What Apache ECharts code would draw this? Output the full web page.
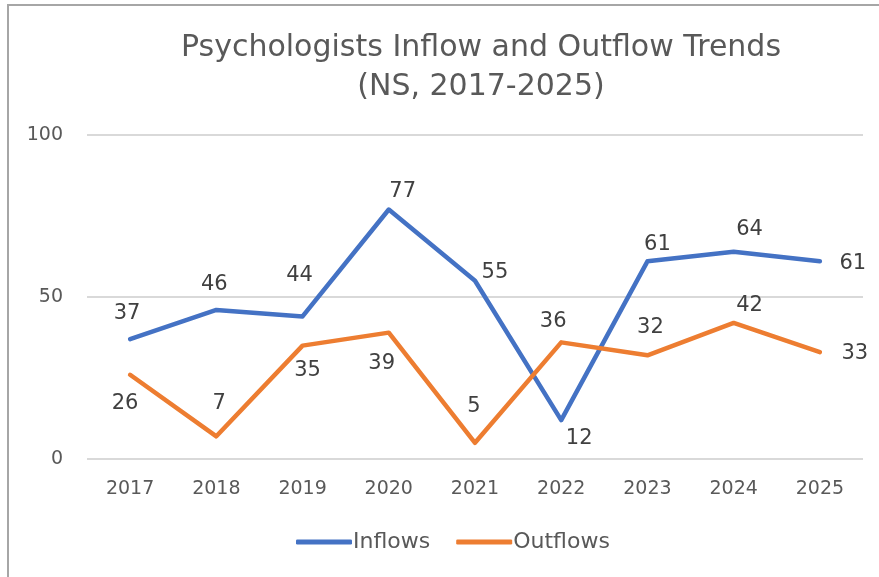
<!DOCTYPE html>
<html>
<head>
<meta charset="utf-8">
<script src="https://cdn.jsdelivr.net/npm/echarts@6/dist/echarts.min.js"></script>
<style>
  html, body { margin: 0; padding: 0; background: #fff; }
  #main { width: 879px; height: 577px; }
</style>
</head>
<body>
<div id="main"></div>
<script>
var years = ['2017', '2018', '2019', '2020', '2021', '2022', '2023', '2024', '2025'];
var inflows = [37, 46, 44, 77, 55, 12, 61, 64, 61];
var outflows = [26, 7, 35, 39, 5, 36, 32, 42, 33];
var yTicks = [0, 50, 100];

// label centre relative to its point, in px (Excel placed them by hand)
var inLabelAt = [[-3, -26], [-2, -25], [-3, -41], [14, -18], [20, -8], [18, 18], [10, -17], [16, -22], [33, 2]];
var outLabelAt = [[-5, 29], [3, -33], [5, 25], [-7, 31], [-1, -36], [-8, -21], [3, -28], [16, -17], [35, 2]];

var font = 'DejaVu Sans';

function buildData(vals, at) {
    return vals.map(function (v, i) {
        return { value: v, label: { position: at[i] } };
    });
}

var option = {
    backgroundColor: '#fff',
    animation: false,
    title: {
        text: 'Psychologists Inflow and Outflow Trends\n(NS, 2017-2025)',
        left: 476,
        top: 24,
        textAlign: 'center',
        textStyle: {
            fontFamily: font,
            fontSize: 30,
            fontWeight: 'normal',
            color: '#595959',
            lineHeight: 39
        }
    },
    graphic: [{
        type: 'rect',
        shape: { x: 8, y: 5, width: 900, height: 620 },
        style: { fill: 'none', stroke: '#a6a6a6', lineWidth: 2 },
        silent: true
    }],
    legend: {
        bottom: 19,
        left: 291,
        itemWidth: 56,
        itemHeight: 5,
        itemGap: 26,
        icon: 'roundRect',
        textStyle: { fontFamily: font, fontSize: 22, color: '#595959', padding: [0, 0, 0, -4] },
        data: ['Inflows', 'Outflows']
    },
    grid: { left: 87, right: 16, top: 135, bottom: 118 },
    xAxis: {
        type: 'category',
        data: years,
        boundaryGap: true,
        axisLine: { show: false },
        axisTick: { show: false },
        axisLabel: { fontFamily: font, fontSize: 19, color: '#595959', margin: 21 }
    },
    yAxis: {
        type: 'value',
        min: yTicks[0],
        max: yTicks[yTicks.length - 1],
        interval: 50,
        axisLine: { show: false },
        axisTick: { show: false },
        axisLabel: { fontFamily: font, fontSize: 19, color: '#595959', margin: 24 },
        splitLine: { lineStyle: { color: '#d9d9d9', width: 2 } }
    },
    series: [
        {
            name: 'Inflows',
            type: 'line',
            data: buildData(inflows, inLabelAt),
            showSymbol: true,
            symbol: 'circle',
            symbolSize: 0.1,
            lineStyle: { color: '#4472c4', width: 4.5, cap: 'round', join: 'round' },
            itemStyle: { color: '#4472c4' },
            label: { show: true, fontFamily: font, fontSize: 21, color: '#404040', align: 'center', verticalAlign: 'middle' }
        },
        {
            name: 'Outflows',
            type: 'line',
            data: buildData(outflows, outLabelAt),
            showSymbol: true,
            symbol: 'circle',
            symbolSize: 0.1,
            lineStyle: { color: '#ed7d31', width: 4.5, cap: 'round', join: 'round' },
            itemStyle: { color: '#ed7d31' },
            label: { show: true, fontFamily: font, fontSize: 21, color: '#404040', align: 'center', verticalAlign: 'middle' }
        }
    ]
};

var myChart = echarts.init(document.getElementById('main'));
myChart.setOption(option);
</script>
</body>
</html>
